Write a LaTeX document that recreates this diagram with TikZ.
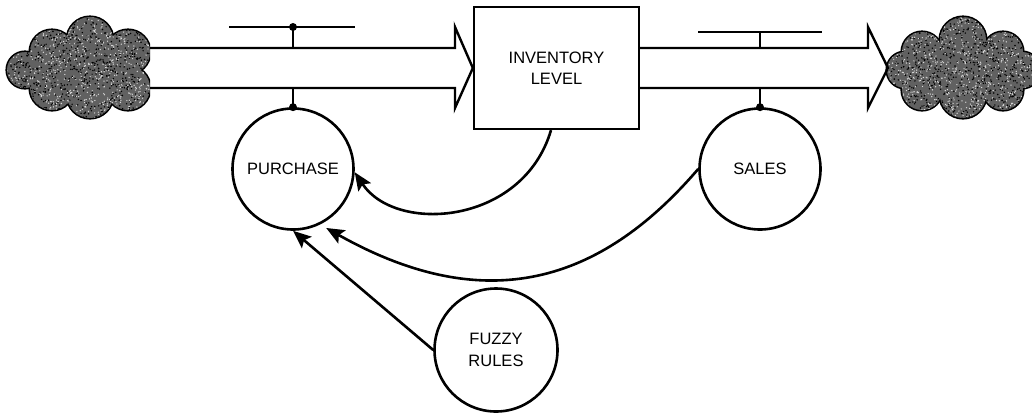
\documentclass[tikz,border=0pt]{standalone}
\usepackage{fontspec}
\setmainfont{Liberation Sans}
\usetikzlibrary{arrows.meta,calc}
\begin{document}
\begin{tikzpicture}[x=1pt,y=-1pt,
  lbl/.style={font=\fontsize{16.5}{21.5}\selectfont, align=center},
  aux/.style={draw, circle, line width=2.6pt, minimum size=121pt, inner sep=0pt, lbl},
  stock/.style={draw, rectangle, line width=2.3pt, minimum width=165pt, minimum height=122pt, inner sep=0pt, lbl},
  pipe/.style={line width=2.4pt, line join=miter},
  link/.style={line width=2.6pt, -{Stealth[length=18pt,width=15pt,inset=3.5pt]}},
  puff/.style={fill=black!62},
  knob/.style={fill=black},
]
\useasboundingbox (0,0) rectangle (1032,413);

% source cloud: union of discs, cut flat where the pipe leaves it, with a grainy fill
\coordinate (srcCloud) at (90,68);
\begin{scope}
  \clip (0,0) rectangle (150,140);
  \foreach \x/\y/\r in {25/70/18, 52/52/22, 90/40/23, 128/52/22, 52/88/22, 90/95/23, 128/88/22, 90/70/35}
    \fill[black] (\x,\y) circle [radius=\r+1.6];
  \clip \foreach \x/\y/\r in {25/70/18, 52/52/22, 90/40/23, 128/52/22, 52/88/22, 90/95/23, 128/88/22, 90/70/35}
    {(\x,\y) circle [radius=\r]};
  \fill[puff] (0,0) rectangle (150,140);
  \pgfmathsetseed{11}
  \foreach \i in {1,...,900} {
    \pgfmathsetmacro\px{rnd*150}\pgfmathsetmacro\py{15+rnd*105}
    \fill[white!85!black] (\px,\py) circle [radius=0.7];
    \pgfmathsetmacro\qx{rnd*150}\pgfmathsetmacro\qy{15+rnd*105}
    \fill[black] (\qx,\qy) circle [radius=0.8];
  }
\end{scope}

% sink cloud
\coordinate (sinkCloud) at (963,68);
\begin{scope}
  \clip (880,0) rectangle (1032,140);
  \foreach \x/\y/\r in {905/70/18, 922/52/20, 963/40/23, 1003/52/20, 1022/70/18, 922/90/20, 963/95/23, 1003/90/20, 963/70/35}
    \fill[black] (\x,\y) circle [radius=\r+1.6];
  \clip \foreach \x/\y/\r in {905/70/18, 922/52/20, 963/40/23, 1003/52/20, 1022/70/18, 922/90/20, 963/95/23, 1003/90/20, 963/70/35}
    {(\x,\y) circle [radius=\r]};
  \fill[puff] (880,0) rectangle (1032,140);
  \pgfmathsetseed{23}
  \foreach \i in {1,...,900} {
    \pgfmathsetmacro\px{885+rnd*147}\pgfmathsetmacro\py{15+rnd*105}
    \fill[white!85!black] (\px,\py) circle [radius=0.7];
    \pgfmathsetmacro\qx{885+rnd*147}\pgfmathsetmacro\qy{15+rnd*105}
    \fill[black] (\qx,\qy) circle [radius=0.8];
  }
\end{scope}

% stock and auxiliaries
\node[stock] (inv) at (556.5,68) {INVENTORY\\LEVEL};
\node[aux] (purchase) at (293,169) {PURCHASE};
\node[aux] (sales) at (760,169) {SALES};
\node[aux, minimum size=123pt] (fuzzy) at (496,350) {FUZZY\\RULES};

% inflow pipe
\draw[pipe] (150,48) -- (455,48) -- (455,27) -- (inv.west) -- (455,108) -- (455,88) -- (150,88);
% outflow pipe
\draw[pipe] (inv.east |- 0,48) -- (868,48) -- (868,27) -- (888,68) -- (868,108) -- (868,88) -- (inv.east |- 0,88);

% purchase valve
\coordinate (valveIn) at (293,27);
\draw[pipe] (229,27) -- (355,27);
\draw[pipe] (valveIn) -- (293,48);
\fill[knob] (valveIn) circle [radius=4];
\draw[pipe] (293,88) -- (purchase.north);
\fill[knob] (purchase.north) circle [radius=4];

% sales valve
\coordinate (valveOut) at (760,32);
\draw[pipe] (698,32) -- (822,32);
\draw[pipe] (valveOut) -- (760,48);
\draw[pipe] (760,88) -- (sales.north);
\fill[knob] (sales.north) circle [radius=4];

% information links
\draw[link] ([xshift=-5.5pt]inv.south) .. controls +(-28,95) and +(41,62) .. (purchase.-3);
\draw[link, shorten >=7pt] (sales.180) .. controls +(-91,106) and +(174,98) .. (purchase.-64);
\draw[link] (fuzzy.west) -- (purchase.south);
\end{tikzpicture}
\end{document}
